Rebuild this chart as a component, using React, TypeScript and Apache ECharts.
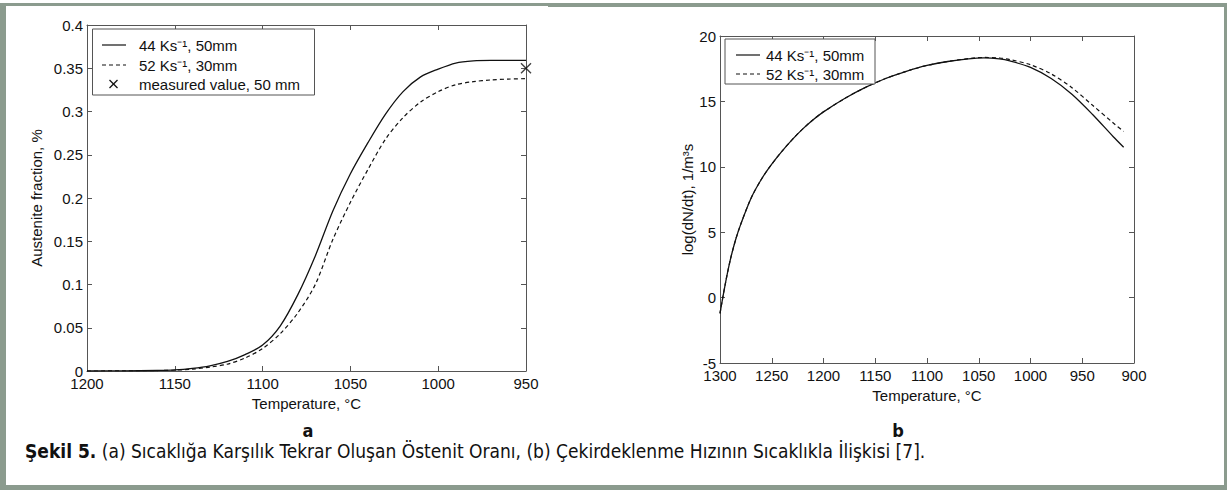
import React, { useEffect, useRef } from "react";
import * as echarts from "echarts";

// ---------- data ----------
const tempA = [1200, 1180, 1160, 1150, 1140, 1130, 1120, 1110, 1100, 1090, 1080, 1070, 1060, 1050, 1040, 1030, 1020, 1010, 1000, 990, 980, 970, 960, 950];
const frac44 = [0, 0.0001, 0.0006, 0.0012, 0.003, 0.006, 0.011, 0.019, 0.03, 0.052, 0.088, 0.133, 0.185, 0.228, 0.264, 0.297, 0.323, 0.34, 0.349, 0.356, 0.3585, 0.359, 0.359, 0.359];
const frac52 = [0, 0.0001, 0.0005, 0.001, 0.0022, 0.0045, 0.008, 0.015, 0.026, 0.043, 0.067, 0.1, 0.152, 0.195, 0.233, 0.268, 0.293, 0.311, 0.323, 0.331, 0.3345, 0.3365, 0.3375, 0.338];
const measuredTemp = [950];
const measuredFrac = [0.35];

const tempB = [1300, 1295, 1290, 1285, 1280, 1270, 1260, 1250, 1240, 1230, 1220, 1210, 1200, 1180, 1160, 1140, 1120, 1100, 1080, 1060, 1045, 1030, 1020, 1000, 980, 960, 940, 920, 910];
const rate44 = [-1.2, 1.0, 2.9, 4.4, 5.6, 7.6, 9.05, 10.2, 11.2, 12.1, 12.9, 13.6, 14.2, 15.2, 16.05, 16.75, 17.3, 17.75, 18.05, 18.25, 18.32, 18.25, 18.1, 17.6, 16.75, 15.55, 14.0, 12.3, 11.5];
const rate52 = [-1.2, 1.0, 2.9, 4.4, 5.6, 7.6, 9.05, 10.2, 11.2, 12.1, 12.9, 13.6, 14.2, 15.2, 16.05, 16.75, 17.3, 17.75, 18.05, 18.27, 18.36, 18.32, 18.2, 17.8, 17.1, 16.05, 14.7, 13.35, 12.7];

const legendA = ["44 Ks⁻¹, 50mm", "52 Ks⁻¹, 30mm", "measured value, 50 mm"];
const legendB = ["44 Ks⁻¹, 50mm", "52 Ks⁻¹, 30mm"];
const xNameA = "Temperature, °C";
const yNameA = "Austenite fraction, %";
const xNameB = "Temperature, °C";
const yNameB = "log(dN/dt), 1/m³s";
const captionBold = "Şekil 5.";
const captionRest = " (a) Sıcaklığa Karşılık Tekrar Oluşan Östenit Oranı, (b) Çekirdeklenme Hızının Sıcaklıkla İlişkisi [7].";

// ---------- styles ----------
const FONT = "'Liberation Sans', Arial, Helvetica, sans-serif";
const NARROW = "'Liberation Sans Narrow', 'DejaVu Sans Condensed', 'Liberation Sans', sans-serif";
const INK = "#111";
const AXIS = "#555";
const FRAME = "#8b9b8e";

const zip = (xs: number[], ys: number[]) => xs.map((x, i) => [x, ys[i]]);

function axisCommon(extra: any) {
  return {
    type: "value",
    axisLine: { show: true, onZero: false, lineStyle: { color: AXIS, width: 1 } },
    axisTick: { show: true, inside: true, length: 5, lineStyle: { color: AXIS } },
    splitLine: { show: false },
    axisLabel: { show: true, color: INK, fontFamily: FONT, fontSize: 15 },
    nameTextStyle: { color: INK, fontFamily: FONT, fontSize: 15 },
    ...extra,
  };
}

export default function App() {
  const ref = useRef<HTMLDivElement>(null);
  useEffect(() => {
    document.body.style.margin = "0";
    if (!ref.current) return;
    const chart = echarts.init(ref.current, undefined, { renderer: "svg" });

    const gA = { left: 87, top: 25, width: 439, height: 346 };
    const gB = { left: 720, top: 36, width: 414, height: 327 };

    const fmt = (v: number) => String(Number(v.toFixed(2)));
    const plain = (v: number) => String(v);

    const lineLeg = (x: number, y: number, dashed: boolean) => ({
      type: "line",
      shape: { x1: x, y1: y, x2: x + 24, y2: y },
      style: { stroke: INK, lineWidth: 1.2, lineDash: dashed ? [4, 3] : null },
    });
    const txt = (x: number, y: number, s: string) => ({
      type: "text",
      x,
      y,
      style: { text: s, fill: INK, font: `15px ${FONT}`, textVerticalAlign: "middle", verticalAlign: "middle" },
    });

    const option: any = {
      animation: false,
      grid: [
        { ...gA, containLabel: false },
        { ...gB, containLabel: false },
      ],
      xAxis: [
        axisCommon({
          gridIndex: 0, min: 950, max: 1200, interval: 50, inverse: true, position: "bottom",
          name: xNameA, nameLocation: "middle", nameGap: 24,
          axisLabel: { color: INK, fontFamily: FONT, fontSize: 15, margin: 5, formatter: plain },
        }),
        axisCommon({ gridIndex: 0, min: 950, max: 1200, interval: 50, inverse: true, position: "top", axisLabel: { show: false } }),
        axisCommon({
          gridIndex: 1, min: 900, max: 1300, interval: 50, inverse: true, position: "bottom",
          name: xNameB, nameLocation: "middle", nameGap: 21,
          axisLabel: { color: INK, fontFamily: FONT, fontSize: 15, margin: 5, formatter: plain },
        }),
        axisCommon({ gridIndex: 1, min: 900, max: 1300, interval: 50, inverse: true, position: "top", axisLabel: { show: false } }),
      ],
      yAxis: [
        axisCommon({
          gridIndex: 0, min: 0, max: 0.4, interval: 0.05, position: "left",
          name: yNameA, nameLocation: "middle", nameGap: 43,
          axisLabel: { color: INK, fontFamily: FONT, fontSize: 15, margin: 4, formatter: fmt },
        }),
        axisCommon({ gridIndex: 0, min: 0, max: 0.4, interval: 0.05, position: "right", axisLabel: { show: false } }),
        axisCommon({
          gridIndex: 1, min: -5, max: 20, interval: 5, position: "left",
          name: yNameB, nameLocation: "middle", nameGap: 22,
          axisLabel: { color: INK, fontFamily: FONT, fontSize: 15, margin: 4, formatter: plain },
        }),
        axisCommon({ gridIndex: 1, min: -5, max: 20, interval: 5, position: "right", axisLabel: { show: false } }),
      ],
      series: [
        {
          type: "line", xAxisIndex: 0, yAxisIndex: 0, data: zip(tempA, frac44), smooth: 0.3,
          showSymbol: false, lineStyle: { color: INK, width: 1.3 },
        },
        {
          type: "line", xAxisIndex: 0, yAxisIndex: 0, data: zip(tempA, frac52), smooth: 0.3,
          showSymbol: false, lineStyle: { color: INK, width: 1.2, type: [4, 3] },
        },
        {
          type: "scatter", xAxisIndex: 0, yAxisIndex: 0, data: zip(measuredTemp, measuredFrac),
          symbol: "path://M0 0L10 10M10 0L0 10", symbolSize: 10,
          itemStyle: { color: "transparent", borderColor: INK, borderWidth: 1.4 },
        },
        {
          type: "line", xAxisIndex: 2, yAxisIndex: 2, data: zip(tempB, rate44), smooth: 0.3,
          showSymbol: false, lineStyle: { color: INK, width: 1.3 },
        },
        {
          type: "line", xAxisIndex: 2, yAxisIndex: 2, data: zip(tempB, rate52), smooth: 0.3,
          showSymbol: false, lineStyle: { color: INK, width: 1.2, type: [4, 3] },
        },
      ],
      graphic: [
        // outer frame
        { type: "rect", shape: { x: 0, y: 3, width: 548, height: 3 }, style: { fill: FRAME } },
        { type: "rect", shape: { x: 548, y: 3, width: 679, height: 4 }, style: { fill: FRAME } },
        { type: "rect", shape: { x: 0, y: 3, width: 6, height: 487 }, style: { fill: FRAME } },
        { type: "rect", shape: { x: 0, y: 485, width: 1227, height: 5 }, style: { fill: FRAME } },
        { type: "rect", shape: { x: 1224, y: 3, width: 3, height: 487 }, style: { fill: FRAME } },
        // legend A
        { type: "rect", shape: { x: 92.5, y: 29, width: 222, height: 66 }, style: { fill: "#fff", stroke: AXIS, lineWidth: 1 }, z: 100 },
        { ...lineLeg(102, 45, false), z: 101 },
        { ...lineLeg(102, 65, true), z: 101 },
        { type: "line", shape: { x1: 109.5, y1: 80, x2: 117.5, y2: 88 }, style: { stroke: INK, lineWidth: 1.3 }, z: 101 },
        { type: "line", shape: { x1: 117.5, y1: 80, x2: 109.5, y2: 88 }, style: { stroke: INK, lineWidth: 1.3 }, z: 101 },
        { ...txt(139, 45, legendA[0]), z: 101 },
        { ...txt(139, 65, legendA[1]), z: 101 },
        { ...txt(139, 84, legendA[2]), z: 101 },
        // legend B
        { type: "rect", shape: { x: 725, y: 39, width: 150, height: 45 }, style: { fill: "#fff", stroke: AXIS, lineWidth: 1 }, z: 100 },
        { ...lineLeg(736, 55, false), z: 101 },
        { ...lineLeg(736, 74, true), z: 101 },
        { ...txt(766, 55, legendB[0]), z: 101 },
        { ...txt(766, 74, legendB[1]), z: 101 },
        // panel letters
        { type: "text", x: 308, y: 430, style: { text: "a", fill: INK, font: `bold 18px ${NARROW}`, textAlign: "center", textVerticalAlign: "middle", align: "center", verticalAlign: "middle" } },
        { type: "text", x: 898, y: 430, style: { text: "b", fill: INK, font: `bold 18px ${NARROW}`, textAlign: "center", textVerticalAlign: "middle", align: "center", verticalAlign: "middle" } },
        // caption
        {
          type: "text", x: 25, y: 451,
          style: {
            text: `{b|${captionBold}}{r|${captionRest}}`,
            verticalAlign: "middle", textVerticalAlign: "middle",
            rich: {
              b: { fontFamily: NARROW, fontSize: 19, fontWeight: "bold", fill: INK, color: INK },
              r: { fontFamily: NARROW, fontSize: 19, fill: INK, color: INK },
            },
          },
        },
      ],
    };
    chart.setOption(option);
    return () => chart.dispose();
  }, []);
  return (
    <div
      ref={ref}
      style={{ position: "absolute", left: 0, top: 0, width: 1227, height: 490, background: "#fff" }}
    />
  );
}
